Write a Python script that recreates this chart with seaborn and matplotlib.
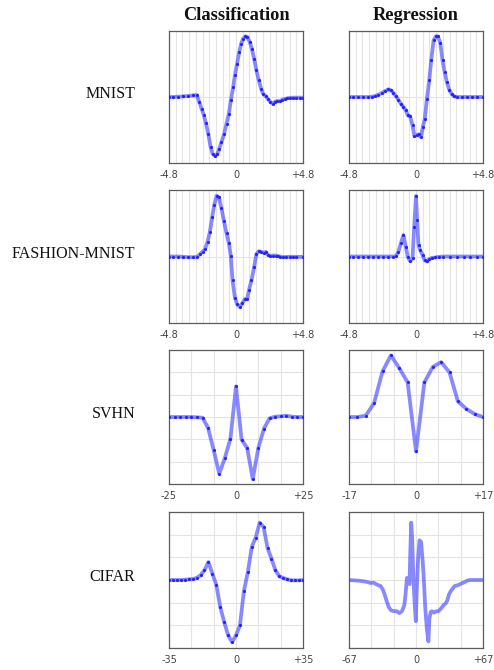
import numpy as np
import pandas as pd
import matplotlib
matplotlib.use("Agg")
import matplotlib.pyplot as plt
import seaborn as sns

# ---------------- data ----------------
col_titles = ["Classification", "Regression"]
row_labels = ["MNIST", "FASHION-MNIST", "SVHN", "CIFAR"]
x_limits = [[4.8, 4.8], [4.8, 4.8], [25, 17], [35, 67]]
tick_texts = [[("-4.8", "0", "+4.8"), ("-4.8", "0", "+4.8")],
              [("-4.8", "0", "+4.8"), ("-4.8", "0", "+4.8")],
              [("-25", "0", "+25"), ("-17", "0", "+17")],
              [("-35", "0", "+35"), ("-67", "0", "+67")]]

mnist_cls_x = [-4.80, -4.49, -4.13, -3.78, -3.42, -3.06, -2.82, -2.63, -2.47, -2.30, -2.16, -1.99, -1.82,
               -1.68, -1.51, -1.35, -1.20, -1.04, -0.85, -0.68, -0.51, -0.37, -0.20, -0.08, 0.08, 0.23,
               0.37, 0.51, 0.68, 0.82, 0.99, 1.13, 1.30, 1.46, 1.63, 1.80, 1.94, 2.13, 2.30, 2.47, 2.66,
               2.77, 2.94, 3.13, 3.32, 3.49, 3.66, 3.85, 4.08, 4.32, 4.56, 4.80]
mnist_cls_y = [0.0, 0.0, 0.005, 0.01, 0.015, 0.025, 0.03, -0.076, -0.177, -0.278, -0.394, -0.556, -0.758,
               -0.859, -0.894, -0.869, -0.783, -0.682, -0.556, -0.404, -0.253, -0.051, 0.152, 0.328, 0.505,
               0.682, 0.808, 0.884, 0.919, 0.909, 0.833, 0.732, 0.581, 0.404, 0.253, 0.126, 0.051, 0.010,
               -0.035, -0.076, -0.101, -0.076, -0.061, -0.066, -0.040, -0.030, -0.020, -0.015, -0.010,
               -0.010, -0.010, -0.010]

mnist_reg_x = [-4.80, -4.49, -4.13, -3.77, -3.41, -3.17, -2.93, -2.69, -2.45, -2.21, -1.98, -1.78, -1.62,
               -1.45, -1.26, -1.09, -0.90, -0.73, -0.59, -0.42, -0.25, -0.11, 0.06, 0.18, 0.35, 0.49, 0.63,
               0.78, 0.95, 1.09, 1.26, 1.42, 1.57, 1.74, 1.90, 2.05, 2.21, 2.38, 2.57, 2.74, 2.93, 3.29,
               3.65, 4.01, 4.37, 4.80]
mnist_reg_y = [0.0, 0.0, 0.0, 0.0, 0.0, 0.005, 0.015, 0.035, 0.061, 0.091, 0.116, 0.101, 0.061, 0.015,
               -0.040, -0.101, -0.152, -0.202, -0.278, -0.293, -0.429, -0.596, -0.571, -0.566, -0.606,
               -0.455, -0.328, -0.025, 0.253, 0.556, 0.859, 0.919, 0.919, 0.818, 0.556, 0.379, 0.227,
               0.111, 0.040, 0.010, 0.0, 0.0, 0.0, 0.0, 0.0, 0.0]

fashion_cls_x = [-4.80, -4.49, -4.13, -3.78, -3.42, -3.06, -2.78, -2.58, -2.39, -2.23, -2.04, -1.87, -1.70,
                 -1.56, -1.39, -1.23, -1.04, -0.87, -0.68, -0.51, -0.37, -0.25, -0.08, 0.08, 0.27, 0.46,
                 0.63, 0.80, 0.94, 1.11, 1.30, 1.46, 1.63, 1.82, 1.99, 2.13, 2.30, 2.47, 2.66, 2.85, 3.01,
                 3.18, 3.37, 3.61, 3.85, 4.08, 4.32, 4.80]
fashion_cls_y = [0.0, 0.0, 0.0, -0.005, -0.010, -0.010, -0.005, 0.035, 0.075, 0.106, 0.221, 0.372, 0.598,
                 0.774, 0.915, 0.889, 0.724, 0.538, 0.347, 0.196, 0.005, -0.357, -0.618, -0.719, -0.759,
                 -0.698, -0.643, -0.633, -0.497, -0.357, -0.156, 0.035, 0.080, 0.070, 0.055, 0.070, 0.020,
                 0.010, 0.015, 0.015, 0.005, 0.0, -0.010, -0.005, -0.005, -0.005, -0.005, -0.005]

fashion_reg_x = [-4.80, -4.49, -4.13, -3.77, -3.41, -3.05, -2.69, -2.33, -1.98, -1.62, -1.45, -1.26, -1.09,
                 -0.90, -0.73, -0.59, -0.42, -0.25, -0.13, 0.0, 0.08, 0.18, 0.30, 0.47, 0.61, 0.78, 0.95,
                 1.14, 1.38, 1.62, 1.97, 2.45, 2.93, 3.41, 3.89, 4.37, 4.80]
fashion_reg_y = [0.0, 0.0, 0.0, 0.0, 0.0, 0.0, 0.0, 0.0, 0.0, 0.0, 0.005, 0.070, 0.196, 0.322, 0.146,
                 -0.005, -0.070, -0.030, 0.447, 0.910, 0.548, 0.171, 0.095, 0.020, -0.055, -0.075, -0.040,
                 -0.020, -0.015, -0.005, 0.0, 0.0, 0.0, 0.0, 0.0, 0.0, 0.0]

svhn_cls_x = [-25, -22.92, -20.83, -18.75, -16.67, -14.58, -12.5, -10.42, -8.33, -6.25, -4.17, -2.08, 0,
              2.08, 4.17, 6.25, 8.33, 10.42, 12.5, 14.58, 16.67, 18.75, 20.83, 22.92, 25]
svhn_cls_y = [0.0, 0.0, 0.0, 0.0, 0.0, -0.015, -0.03, -0.49, -1.49, -2.54, -1.84, -0.97, 1.37, -1.01,
              -1.39, -2.78, -1.39, -0.52, -0.06, 0.015, 0.03, 0.06, 0.015, 0.0, 0.0]

svhn_reg_x = [-17, -14.875, -12.75, -10.625, -8.5, -6.375, -4.25, -2.125, 0, 2.125, 4.25, 6.375, 8.5,
              10.625, 12.75, 14.875, 17]
svhn_reg_y = [0.0, 0.0, 0.06, 0.63, 2.04, 2.76, 2.19, 1.55, -1.54, 1.55, 2.24, 2.46, 2.0, 0.70, 0.37,
              0.13, 0.0]

cifar_cls_x = [-35.0, -32.94, -30.88, -28.82, -26.76, -24.71, -22.65, -20.59, -18.53, -16.47, -14.41,
               -12.35, -10.29, -8.24, -6.18, -4.12, -2.06, 0.0, 2.06, 4.12, 6.18, 8.24, 10.29, 12.35,
               14.41, 16.47, 18.53, 20.59, 22.65, 24.71, 26.76, 28.82, 30.88, 32.94, 35.0]
cifar_cls_y = [0.0, 0.0, 0.0, 0.0, 0.015, 0.03, 0.045, 0.09, 0.21, 0.43, 0.79, 0.28, -0.21, -1.19,
               -1.85, -2.44, -2.74, -2.44, -2.0, -0.5, 0.35, 1.46, 1.87, 2.53, 2.34, 1.41, 0.94, 0.43,
               0.16, 0.09, 0.03, -0.015, -0.015, -0.015, 0.0]

cifar_reg_x = [-67.0, -62.0, -57.1, -52.1, -48.8, -45.5, -42.2, -38.9, -35.6, -33.3, -31.6, -29.6, -27.3,
               -25.0, -22.3, -19.0, -16.7, -14.1, -11.7, -10.4, -9.4, -9.1, -8.1, -7.1, -6.5, -5.8, -4.8,
               -3.8, -2.5, -1.2, -0.2, 0.8, 2.1, 3.5, 5.1, 6.5, 7.8, 9.1, 10.8, 12.4, 13.4, 14.7, 16.0,
               18.0, 20.0, 22.3, 25.0, 27.3, 29.6, 31.3, 32.9, 34.6, 36.6, 38.9, 41.2, 43.8, 46.5, 48.8,
               51.1, 53.8, 57.1, 62.0, 67.0]
cifar_reg_y = [0.0, -0.015, -0.03, -0.06, -0.09, -0.13, -0.12, -0.21, -0.26, -0.41, -0.60, -0.90, -1.19,
               -1.34, -1.37, -1.38, -1.46, -1.38, -1.12, -0.60, -0.09, 0.09, -0.015, -0.16, -0.18, 1.09,
               2.53, 1.82, -0.09, -1.12, -1.82, -0.38, 0.94, 1.75, 1.68, 0.94, 0.06, -1.12, -2.15, -2.71,
               -1.71, -1.41, -1.38, -1.44, -1.38, -1.38, -1.26, -1.12, -1.04, -0.90, -0.65, -0.50, -0.38,
               -0.26, -0.24, -0.19, -0.13, -0.09, -0.03, 0.0, 0.0, 0.0, 0.0]

series = [[(mnist_cls_x, mnist_cls_y), (mnist_reg_x, mnist_reg_y)],
          [(fashion_cls_x, fashion_cls_y), (fashion_reg_x, fashion_reg_y)],
          [(svhn_cls_x, svhn_cls_y), (svhn_reg_x, svhn_reg_y)],
          [(cifar_cls_x, cifar_cls_y), (cifar_reg_x, cifar_reg_y)]]
show_dots = [[True, True], [True, True], [True, True], [True, False]]

# ---------------- style ----------------
sns.set_theme(style="white")
plt.rcParams['font.family'] = ['DejaVu Sans']

fig = plt.figure(figsize=(4.94, 6.70), dpi=100)
W, H = 494.0, 670.0
col_left = [169, 349]
col_w = 134
rows_px = [(31, 163), (190, 323), (350, 484), (512, 648)]

spine_c = "#5c5c5c"
grid_c = "#e4e4e4"
line_c = "#3a3aff"
serif = ["Liberation Serif", "DejaVu Serif"]

for r in range(4):
    top, bot = rows_px[r]
    for c in range(2):
        ax = fig.add_axes([col_left[c] / W, 1 - bot / H, col_w / W, (bot - top) / H])
        L = x_limits[r][c]
        xs, ys = series[r][c]
        df = pd.DataFrame({"x": xs, "y": ys})
        sns.lineplot(data=df, x="x", y="y", ax=ax, color=line_c, alpha=0.6, lw=2.7,
                     sort=False, estimator=None, zorder=3)
        if show_dots[r][c]:
            sns.scatterplot(data=df, x="x", y="y", ax=ax, color="#2222ff", s=5,
                            linewidth=0, zorder=4)
        ax.set_xlim(-L, L)
        if r < 2:
            ax.set_ylim(-1.0, 1.0)
            xt = np.linspace(-L, L, 21)
            ax.set_yticks([0])
            ax.set_yticklabels([""])
            ax.tick_params(axis="y", length=0)
        else:
            ax.set_ylim(-3, 3)
            xt = np.linspace(-L, L, 7)
            ax.set_yticks(np.arange(-3, 4))
            ax.set_yticklabels([""] * 7)
            ax.tick_params(axis="y", direction="in", length=3, color=spine_c, width=0.8)
        labels = [""] * len(xt)
        labels[0], labels[len(xt) // 2], labels[-1] = tick_texts[r][c]
        ax.set_xticks(xt)
        ax.set_xticklabels(labels)
        ax.tick_params(axis="x", direction="in", length=3, color=spine_c, width=0.8,
                       labelsize=7, labelcolor="#444444", pad=5)
        ax.grid(True, color=grid_c, lw=0.8)
        ax.set_axisbelow(True)
        ax.set_xlabel("")
        ax.set_ylabel("")
        for s in ax.spines.values():
            s.set_color(spine_c)
            s.set_linewidth(0.9)
        if c == 0:
            fig.text(135.5 / W, 1 - ((top + bot) / 2.0 - 3) / H, row_labels[r],
                     ha="right", va="center", fontsize=11.5, family=serif, color="#111111")
        if r == 0:
            fig.text((col_left[c] + col_w / 2) / W, 1 - 16 / H, col_titles[c],
                     ha="center", va="center", fontsize=13.2, fontweight="bold",
                     family=serif, color="#111111")

fig.savefig("out.png", dpi=100)
